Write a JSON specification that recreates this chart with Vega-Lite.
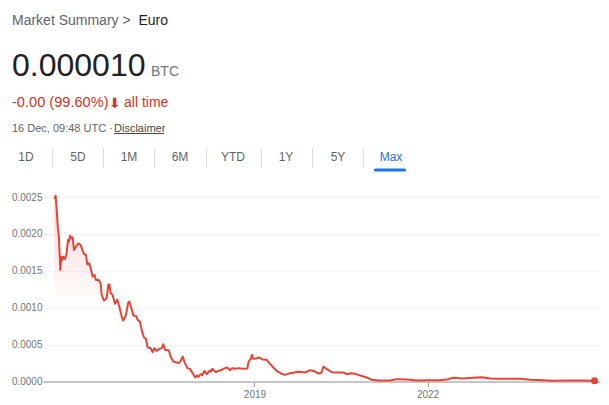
{"$schema":"https://vega.github.io/schema/vega-lite/v6.json","width":557,"height":191.5,"autosize":"none","padding":{"left":43,"top":190,"right":9,"bottom":23.5},"background":"white","config":{"view":{"stroke":null},"font":"Liberation Sans","text":{"font":"Liberation Sans"}},"datasets":{"s":[{"year":2015.529,"price":0.002473},{"year":2015.552,"price":0.002518},{"year":2015.569,"price":0.002347},{"year":2015.587,"price":0.002121},{"year":2015.61,"price":0.001941},{"year":2015.633,"price":0.001512},{"year":2015.65,"price":0.001692},{"year":2015.668,"price":0.001647},{"year":2015.685,"price":0.001692},{"year":2015.714,"price":0.001661},{"year":2015.743,"price":0.001738},{"year":2015.766,"price":0.001918},{"year":2015.783,"price":0.001895},{"year":2015.801,"price":0.001977},{"year":2015.824,"price":0.001941},{"year":2015.847,"price":0.001954},{"year":2015.87,"price":0.001783},{"year":2015.905,"price":0.001828},{"year":2015.945,"price":0.001873},{"year":2015.986,"price":0.00185},{"year":2016.014,"price":0.001783},{"year":2016.043,"price":0.001728},{"year":2016.078,"price":0.001715},{"year":2016.101,"price":0.001589},{"year":2016.136,"price":0.001602},{"year":2016.159,"price":0.001534},{"year":2016.194,"price":0.001422},{"year":2016.228,"price":0.001444},{"year":2016.251,"price":0.001376},{"year":2016.298,"price":0.001376},{"year":2016.332,"price":0.001331},{"year":2016.35,"price":0.001173},{"year":2016.39,"price":0.001097},{"year":2016.436,"price":0.001128},{"year":2016.465,"price":0.001309},{"year":2016.483,"price":0.001318},{"year":2016.506,"price":0.001196},{"year":2016.54,"price":0.001173},{"year":2016.581,"price":0.001052},{"year":2016.621,"price":0.001106},{"year":2016.656,"price":0.001015},{"year":2016.697,"price":0.00088},{"year":2016.725,"price":0.000826},{"year":2016.772,"price":0.000903},{"year":2016.812,"price":0.001074},{"year":2016.829,"price":0.001083},{"year":2016.864,"price":0.001002},{"year":2016.899,"price":0.000894},{"year":2016.945,"price":0.000889},{"year":2016.974,"price":0.000835},{"year":2017.014,"price":0.000812},{"year":2017.043,"price":0.0007},{"year":2017.084,"price":0.000596},{"year":2017.118,"price":0.000578},{"year":2017.147,"price":0.000465},{"year":2017.199,"price":0.000451},{"year":2017.234,"price":0.000397},{"year":2017.263,"price":0.000451},{"year":2017.303,"price":0.000415},{"year":2017.35,"price":0.000442},{"year":2017.39,"price":0.000451},{"year":2017.419,"price":0.000505},{"year":2017.448,"price":0.000429},{"year":2017.517,"price":0.00042},{"year":2017.546,"price":0.000338},{"year":2017.592,"price":0.000271},{"year":2017.639,"price":0.000262},{"year":2017.685,"price":0.000248},{"year":2017.72,"price":0.00028},{"year":2017.754,"price":0.000338},{"year":2017.795,"price":0.000248},{"year":2017.835,"price":0.000181},{"year":2017.882,"price":0.000171},{"year":2017.928,"price":0.000113},{"year":2017.974,"price":0.000054},{"year":2017.997,"price":0.000081},{"year":2018.026,"price":0.000063},{"year":2018.066,"price":0.000099},{"year":2018.095,"price":0.000086},{"year":2018.13,"price":0.000145},{"year":2018.171,"price":0.000099},{"year":2018.188,"price":0.000113},{"year":2018.217,"price":0.000145},{"year":2018.246,"price":0.000136},{"year":2018.269,"price":0.000172},{"year":2018.298,"price":0.000149},{"year":2018.332,"price":0.000126},{"year":2018.373,"price":0.000145},{"year":2018.402,"price":0.000149},{"year":2018.442,"price":0.000163},{"year":2018.488,"price":0.000181},{"year":2018.529,"price":0.00019},{"year":2018.575,"price":0.000154},{"year":2018.621,"price":0.000181},{"year":2018.662,"price":0.000172},{"year":2018.72,"price":0.000181},{"year":2018.806,"price":0.000172},{"year":2018.876,"price":0.000176},{"year":2018.899,"price":0.000271},{"year":2018.934,"price":0.000307},{"year":2018.957,"price":0.000361},{"year":2018.98,"price":0.000307},{"year":2019.026,"price":0.000312},{"year":2019.084,"price":0.000325},{"year":2019.142,"price":0.000298},{"year":2019.211,"price":0.000294},{"year":2019.269,"price":0.000239},{"year":2019.327,"price":0.00019},{"year":2019.384,"price":0.000145},{"year":2019.471,"price":0.000104},{"year":2019.529,"price":0.00009},{"year":2019.618,"price":0.000113},{"year":2019.763,"price":0.000131},{"year":2019.879,"price":0.000122},{"year":2019.965,"price":0.000154},{"year":2020.035,"price":0.00014},{"year":2020.11,"price":0.000108},{"year":2020.162,"price":0.000122},{"year":2020.197,"price":0.000203},{"year":2020.254,"price":0.000167},{"year":2020.341,"price":0.000126},{"year":2020.457,"price":0.000122},{"year":2020.543,"price":0.000122},{"year":2020.601,"price":0.000099},{"year":2020.671,"price":0.000113},{"year":2020.746,"price":0.000104},{"year":2020.832,"price":0.000081},{"year":2020.948,"price":0.000054},{"year":2021.035,"price":0.000023},{"year":2021.15,"price":0.000014},{"year":2021.353,"price":0.000014},{"year":2021.468,"price":0.000032},{"year":2021.642,"price":0.000027},{"year":2021.815,"price":0.000014},{"year":2022.006,"price":0.000018},{"year":2022.22,"price":0.000018},{"year":2022.335,"price":0.000027},{"year":2022.451,"price":0.00005},{"year":2022.595,"price":0.00004},{"year":2022.798,"price":0.00005},{"year":2022.942,"price":0.000059},{"year":2023.087,"price":0.00004},{"year":2023.231,"price":0.000036},{"year":2023.607,"price":0.000036},{"year":2023.78,"price":0.000023},{"year":2024.012,"price":0.000018},{"year":2024.156,"price":0.000009},{"year":2024.416,"price":0.000014},{"year":2024.647,"price":0.000014},{"year":2024.896,"price":0.00001}]},"layer":[{"data":{"name":"s"},"mark":{"type":"area","color":{"x1":0,"y1":0,"x2":0,"y2":1,"gradient":"linear","stops":[{"offset":0,"color":"rgba(234,67,53,0.22)"},{"offset":0.6,"color":"rgba(234,67,53,0)"}]}},"encoding":{"x":{"field":"year","type":"quantitative","scale":{"domain":[2015.333,2024.991],"nice":false,"zero":false},"axis":{"title":null,"values":[2019,2022],"format":"d","grid":false,"domainColor":"#b4b6b8","domainWidth":1.5,"tickColor":"#9aa0a6","tickSize":5,"labelColor":"#70757a","labelFontSize":10,"labelPadding":3,"labelFont":"Liberation Sans"}},"y":{"field":"price","type":"quantitative","scale":{"domain":[0,0.002595],"nice":false},"axis":{"title":null,"values":[0,0.0005,0.001,0.0015,0.002,0.0025],"tickCount":6,"format":".4f","domain":false,"ticks":false,"grid":true,"gridColor":"#f5f5f5","labelColor":"#70757a","labelFontSize":10,"labelPadding":1,"labelOverlap":false,"labelFont":"Liberation Sans"}}}},{"data":{"name":"s"},"mark":{"type":"line","color":"#ea4335","strokeWidth":2,"strokeJoin":"round"},"encoding":{"x":{"field":"year","type":"quantitative"},"y":{"field":"price","type":"quantitative"}}},{"data":{"values":[{"year":2024.896,"price":0.00001}]},"mark":{"type":"circle","color":"#ea4335","opacity":1,"size":50},"encoding":{"x":{"field":"year","type":"quantitative"},"y":{"field":"price","type":"quantitative"}}},{"data":{"values":[{"t":"Market Summary > "}]},"mark":{"type":"text","x":-31,"y":-165,"align":"left","baseline":"alphabetic","fontSize":14,"color":"#5f6368"},"encoding":{"text":{"field":"t"}}},{"data":{"values":[{"t":"Euro"}]},"mark":{"type":"text","x":95.5,"y":-165,"align":"left","baseline":"alphabetic","fontSize":14,"color":"#202124"},"encoding":{"text":{"field":"t"}}},{"data":{"values":[{"t":"0.000010"}]},"mark":{"type":"text","x":-31,"y":-114,"align":"left","baseline":"alphabetic","fontSize":32,"color":"#202124"},"encoding":{"text":{"field":"t"}}},{"data":{"values":[{"t":"BTC"}]},"mark":{"type":"text","x":108,"y":-114,"align":"left","baseline":"alphabetic","fontSize":14,"color":"#70757a"},"encoding":{"text":{"field":"t"}}},{"data":{"values":[{"t":"-0.00 (99.60%)"}]},"mark":{"type":"text","x":-31,"y":-83,"align":"left","baseline":"alphabetic","fontSize":14.6,"color":"#d93025"},"encoding":{"text":{"field":"t"}}},{"data":{"values":[{"t":"⬇"}]},"mark":{"type":"text","x":66,"y":-82.5,"align":"left","baseline":"alphabetic","fontSize":14,"font":"DejaVu Sans","color":"#d93025"},"encoding":{"text":{"field":"t"}}},{"data":{"values":[{"t":"all time"}]},"mark":{"type":"text","x":81,"y":-83,"align":"left","baseline":"alphabetic","fontSize":14,"color":"#d93025"},"encoding":{"text":{"field":"t"}}},{"data":{"values":[{"t":"16 Dec, 09:48 UTC ·"}]},"mark":{"type":"text","x":-31,"y":-58,"align":"left","baseline":"alphabetic","fontSize":11,"color":"#5f6368"},"encoding":{"text":{"field":"t"}}},{"data":{"values":[{"t":"Disclaimer"}]},"mark":{"type":"text","x":71,"y":-58,"align":"left","baseline":"alphabetic","fontSize":11,"color":"#444746"},"encoding":{"text":{"field":"t"}}},{"data":{"values":[{"t":"1D"}]},"mark":{"type":"text","x":-17,"y":-29,"align":"center","baseline":"alphabetic","fontSize":12,"color":"#5f6368"},"encoding":{"text":{"field":"t"}}},{"data":{"values":[{"t":"5D"}]},"mark":{"type":"text","x":35,"y":-29,"align":"center","baseline":"alphabetic","fontSize":12,"color":"#5f6368"},"encoding":{"text":{"field":"t"}}},{"data":{"values":[{"t":"1M"}]},"mark":{"type":"text","x":86,"y":-29,"align":"center","baseline":"alphabetic","fontSize":12,"color":"#5f6368"},"encoding":{"text":{"field":"t"}}},{"data":{"values":[{"t":"6M"}]},"mark":{"type":"text","x":137,"y":-29,"align":"center","baseline":"alphabetic","fontSize":12,"color":"#5f6368"},"encoding":{"text":{"field":"t"}}},{"data":{"values":[{"t":"YTD"}]},"mark":{"type":"text","x":190,"y":-29,"align":"center","baseline":"alphabetic","fontSize":12,"color":"#5f6368"},"encoding":{"text":{"field":"t"}}},{"data":{"values":[{"t":"1Y"}]},"mark":{"type":"text","x":243,"y":-29,"align":"center","baseline":"alphabetic","fontSize":12,"color":"#5f6368"},"encoding":{"text":{"field":"t"}}},{"data":{"values":[{"t":"5Y"}]},"mark":{"type":"text","x":295,"y":-29,"align":"center","baseline":"alphabetic","fontSize":12,"color":"#5f6368"},"encoding":{"text":{"field":"t"}}},{"data":{"values":[{"t":"Max"}]},"mark":{"type":"text","x":348,"y":-29,"align":"center","baseline":"alphabetic","fontSize":12,"color":"#1a73e8"},"encoding":{"text":{"field":"t"}}},{"data":{"values":[{"n":1}]},"mark":{"type":"rule","color":"#444746","strokeWidth":1},"encoding":{"x":{"value":71},"x2":{"value":121},"y":{"value":-56.5},"y2":{"value":-56.5}}},{"data":{"values":[{"n":1}]},"mark":{"type":"rule","color":"#dadce0","strokeWidth":1},"encoding":{"x":{"value":9.5},"y":{"value":-42},"y2":{"value":-22}}},{"data":{"values":[{"n":1}]},"mark":{"type":"rule","color":"#dadce0","strokeWidth":1},"encoding":{"x":{"value":60.5},"y":{"value":-42},"y2":{"value":-22}}},{"data":{"values":[{"n":1}]},"mark":{"type":"rule","color":"#dadce0","strokeWidth":1},"encoding":{"x":{"value":111.5},"y":{"value":-42},"y2":{"value":-22}}},{"data":{"values":[{"n":1}]},"mark":{"type":"rule","color":"#dadce0","strokeWidth":1},"encoding":{"x":{"value":163.5},"y":{"value":-42},"y2":{"value":-22}}},{"data":{"values":[{"n":1}]},"mark":{"type":"rule","color":"#dadce0","strokeWidth":1},"encoding":{"x":{"value":218.5},"y":{"value":-42},"y2":{"value":-22}}},{"data":{"values":[{"n":1}]},"mark":{"type":"rule","color":"#dadce0","strokeWidth":1},"encoding":{"x":{"value":269.5},"y":{"value":-42},"y2":{"value":-22}}},{"data":{"values":[{"n":1}]},"mark":{"type":"rule","color":"#dadce0","strokeWidth":1},"encoding":{"x":{"value":320.5},"y":{"value":-42},"y2":{"value":-22}}},{"data":{"values":[{"n":1}]},"mark":{"type":"rule","color":"#1a73e8","strokeWidth":3,"strokeCap":"round"},"encoding":{"x":{"value":332.5},"x2":{"value":361.5},"y":{"value":-20},"y2":{"value":-20}}}]}
